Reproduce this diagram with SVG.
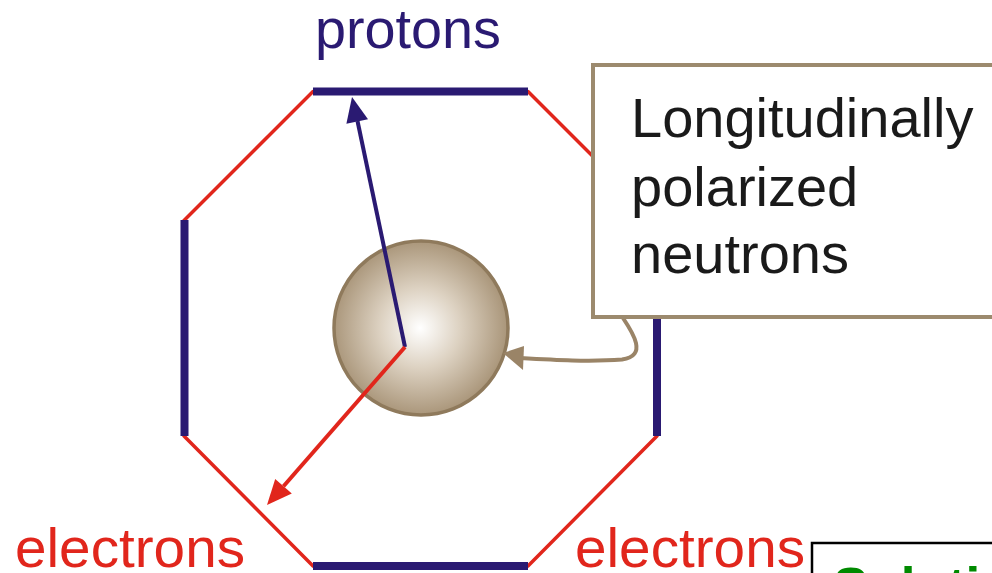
<svg xmlns="http://www.w3.org/2000/svg" width="992" height="573" viewBox="0 0 992 573">
<style>
.blue{stroke:#2a1a72;stroke-width:8;fill:none;stroke-linecap:butt}
.red{stroke:#e1261c;stroke-width:3.5;fill:none;stroke-linecap:round}
.lbl{font-family:"Liberation Sans",Arial,sans-serif;font-size:56px}
</style>
<defs>
<radialGradient id="sph" cx="420" cy="328" r="88" gradientUnits="userSpaceOnUse">
<stop offset="0" stop-color="#ffffff"/>
<stop offset="0.45" stop-color="#ddd2c2"/>
<stop offset="1" stop-color="#a99579"/>
</radialGradient>
</defs>
<rect width="992" height="573" fill="#ffffff"/>
<g id="detector">
<line class="red" x1="313" y1="91.5" x2="184" y2="220.5"/>
<line class="red" x1="528" y1="91.5" x2="657" y2="220.5"/>
<line class="red" x1="184" y1="436" x2="313" y2="566"/>
<line class="red" x1="657" y1="436" x2="528" y2="566"/>
<line class="blue" x1="313" y1="91.5" x2="528" y2="91.5"/>
<line class="blue" x1="313" y1="566" x2="528" y2="566"/>
<line class="blue" x1="184.5" y1="220" x2="184.5" y2="436"/>
<line class="blue" x1="657" y1="220" x2="657" y2="436"/>
</g>
<g id="target">
<circle cx="421" cy="328" r="87" fill="url(#sph)" stroke="#8f7a5c" stroke-width="3.5"/>
</g>
<g id="connectors">
<line x1="405" y1="347" x2="357.5" y2="121" stroke="#2a1a72" stroke-width="4"/>
<polygon points="352,97 368,119.2 346.4,123.8" fill="#2a1a72"/>
<line x1="405" y1="347" x2="283.5" y2="486.2" stroke="#e1261c" stroke-width="4"/>
<polygon points="267,505 291.8,493.5 275.2,478.9" fill="#e1261c"/>
<path d="M623,318 C633,333 648,356 622,359.5 C590,362 555,360 520,358" fill="none" stroke="#9a8467" stroke-width="4"/>
<polygon points="503,353 524,346 523,370" fill="#9a8467"/>
</g>
<g id="callout">
<rect x="593" y="65" width="420" height="252" fill="#ffffff" stroke="#9c8a6e" stroke-width="4"/>
<text class="lbl" fill="#1a1a1a" x="631" y="137">Longitudinally</text>
<text class="lbl" fill="#1a1a1a" x="631" y="206">polarized</text>
<text class="lbl" fill="#1a1a1a" x="631" y="273">neutrons</text>
</g>
<g id="labels">
<text class="lbl" fill="#2a1a72" x="315" y="48" textLength="186" lengthAdjust="spacingAndGlyphs">protons</text>
<text class="lbl" fill="#e1261c" x="15" y="567" textLength="230" lengthAdjust="spacingAndGlyphs">electrons</text>
<text class="lbl" fill="#e1261c" x="575" y="567" textLength="230" lengthAdjust="spacingAndGlyphs">electrons</text>
</g>
<g id="solution">
<rect x="812" y="543" width="200" height="60" fill="#ffffff" stroke="#000000" stroke-width="2.5"/>
<text x="833" y="605" font-family="Liberation Sans,Arial,sans-serif" font-weight="bold" font-size="53" fill="#008a00">Solution</text>
</g>
</svg>
